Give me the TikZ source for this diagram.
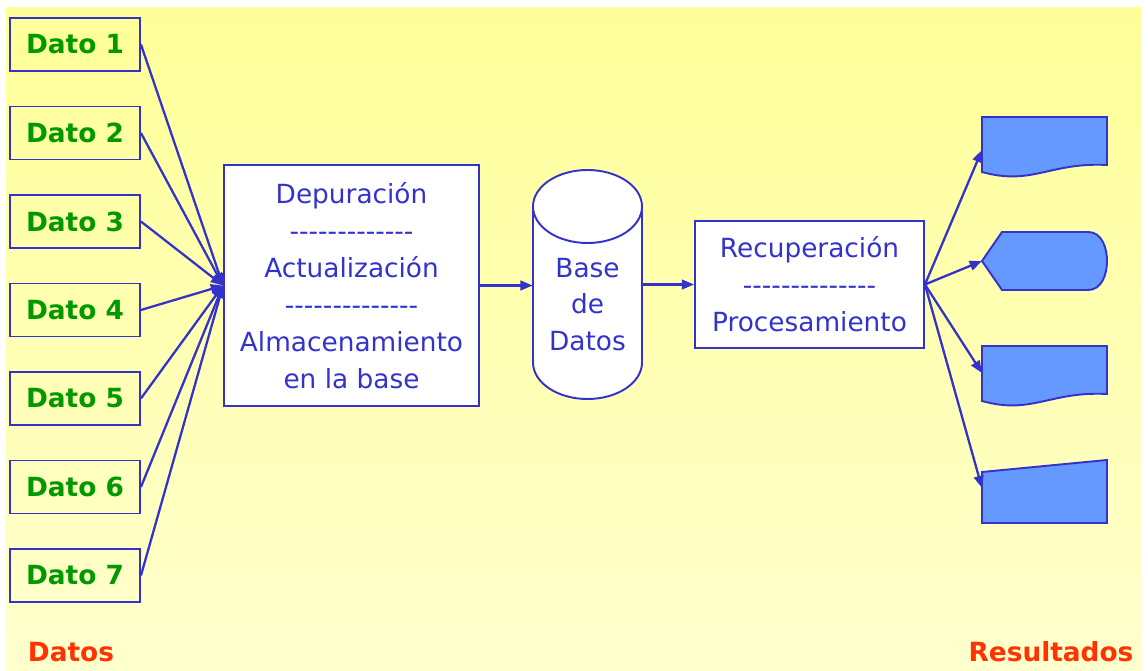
\documentclass[tikz,border=0pt]{standalone}
\usepackage{fontspec}
\setmainfont[Ligatures=TeXOff]{DejaVu Sans}
\usepackage{tikz}
\usetikzlibrary{arrows.meta,calc,positioning}

\definecolor{linea}{RGB}{51,51,204}
\definecolor{verde}{RGB}{0,153,0}
\definecolor{rojo}{RGB}{255,51,0}
\definecolor{relleno}{RGB}{102,153,255}
\definecolor{fondoA}{RGB}{255,255,153}
\definecolor{fondoB}{RGB}{255,255,206}

\tikzset{
  datobox/.style={draw=linea,line width=1.1pt,minimum width=2.6cm,minimum height=1.06cm,
    font=\fontsize{15}{18}\selectfont\bfseries,text=verde},
  procbox/.style={draw=linea,line width=1.1pt,fill=white,align=center,
    font=\fontsize{15}{21}\selectfont,text=linea},
  flecha/.style={draw=linea,line width=1.3pt,-{Triangle[length=7pt,width=5.5pt]}},
  salida/.style={draw=linea,line width=1.1pt,fill=relleno},
  titulo/.style={font=\fontsize{15}{18}\selectfont\bfseries,text=rojo}
}

\begin{document}
\begin{tikzpicture}[x=0.02cm,y=-0.02cm]
            % Fondo
            \useasboundingbox (0,0) rectangle (1148,671);
            \shade[top color=fondoA,bottom color=fondoB] (6,8) rectangle (1141,671);

            % Datos
            \foreach \i in {1,...,7}
              \node[datobox] (d\i) at (75,{44.5+88.5*(\i-1)}) {Dato \i};

            \node[procbox,minimum width=5.1cm,minimum height=4.82cm] (proc) at (351.5,285.5)
              {Depuración\\-------------\\Actualización\\--------------\\Almacenamiento\\en la base};

            \foreach \i in {1,...,7}
              \draw[flecha] (d\i.east) -- (proc.west);

            % Base de datos (cilindro)
            \filldraw[draw=linea,line width=1.1pt,fill=white]
              (533,206.5) -- (533,362.5) arc[start angle=180,end angle=360,x radius=54.5,y radius=-36.5]
              -- (642,206.5) arc[start angle=0,end angle=180,x radius=54.5,y radius=-36.5] -- cycle;
            \draw[draw=linea,line width=1.1pt]
              (533,206.5) arc[start angle=180,end angle=360,x radius=54.5,y radius=-36.5];
            \node[align=center,text=linea,font=\fontsize{15}{21}\selectfont,
              minimum width=2.18cm] (bd) at (587.5,304.5) {Base\\de\\Datos};

            \node[procbox,minimum width=4.58cm,minimum height=2.54cm] (rec) at (809.5,284.5)
              {Recuperación\\--------------\\Procesamiento};

            \draw[flecha] (proc.east) -- (proc.east -| bd.west);
            \draw[flecha] (bd.east |- rec.west) -- (rec.west);

            % Resultados
            \filldraw[salida] (982,117) -- (1107,117) -- (1107,165)
              .. controls (1050,162) and (1032,186) .. (982,172) -- cycle;
            \filldraw[salida] (982,261) -- (1002,232) -- (1088,232)
              to[out=0,in=90] (1107,261) to[out=-90,in=0] (1088,290) -- (1002,290) -- cycle;
            \filldraw[salida] (982,346) -- (1107,346) -- (1107,394)
              .. controls (1050,391) and (1032,415) .. (982,401) -- cycle;
            \filldraw[salida] (982,472) -- (1107,460) -- (1107,523) -- (982,523) -- cycle;

            \coordinate (r1) at (982,150);
            \coordinate (r2) at (982,261);
            \coordinate (r3) at (982,373);
            \coordinate (r4) at (982,488);
            \foreach \i in {1,...,4}
              \draw[flecha] (rec.east) -- (r\i);

            \node[titulo] (datos) at (71,652) {Datos};
            \node[titulo] (res) at (1051,652) {Resultados};
\end{tikzpicture}
\end{document}
